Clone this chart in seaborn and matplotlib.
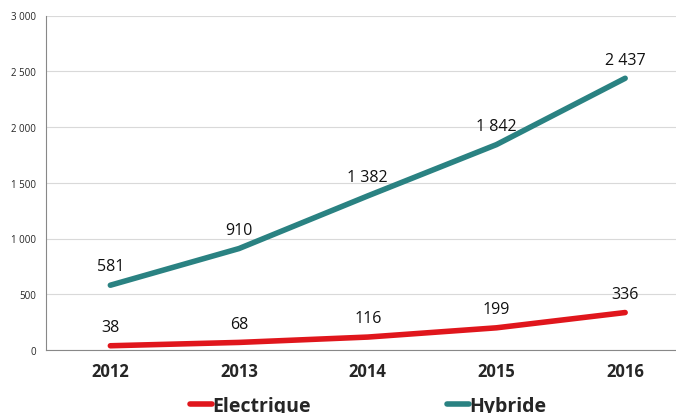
import matplotlib
matplotlib.use("Agg")
import matplotlib.pyplot as plt
import seaborn as sns
import pandas as pd
from matplotlib.lines import Line2D

years = ["2012", "2013", "2014", "2015", "2016"]
electrique = [38, 68, 116, 199, 336]
hybride = [581, 910, 1382, 1842, 2437]
series_names = ["Electrique", "Hybride"]
yticks = [0, 500, 1000, 1500, 2000, 2500, 3000]

colors = {"Electrique": "#E0161C", "Hybride": "#2A8282"}

df = pd.DataFrame({
    "year": years * 2,
    "x": list(range(len(years))) * 2,
    "value": electrique + hybride,
    "series": ["Electrique"] * len(years) + ["Hybride"] * len(years),
})

sns.set_theme(style="white")
plt.rcParams["font.family"] = ["Open Sans", "DejaVu Sans"]

fig = plt.figure(figsize=(6.76, 4.14), dpi=100)
ax = fig.add_axes([46 / 676, 63 / 414, 643.5 / 676, 334.5 / 414])

sns.lineplot(data=df, x="x", y="value", hue="series", palette=colors,
             linewidth=4, ax=ax, legend=False, solid_capstyle="round")

def fmt(v):
    return f"{v:,}".replace(",", " ")

for _, r in df.iterrows():
    ax.annotate(fmt(r["value"]), (r["x"], r["value"]), xytext=(0, 13.5),
                textcoords="offset points", ha="center", va="center",
                fontsize=11.5, color="#111111")

ax.set_xlim(-0.5, len(years) - 0.5)
ax.set_ylim(0, 3000)
ax.set_yticks(yticks)
ax.set_yticklabels([fmt(v) for v in yticks], fontsize=7)
ax.set_xticks(range(len(years)))
ax.set_xticklabels(years, fontsize=12, fontweight="bold")
ax.set_xticks([i - 0.5 for i in range(len(years) + 1)], minor=True)
ax.tick_params(axis="x", which="major", length=0, pad=9)
ax.tick_params(axis="x", which="minor", length=5, color="#888888", width=0.8, direction="out")
ax.tick_params(axis="y", which="major", length=4, color="#888888", width=0.8, direction="out", pad=3)
ax.set_xlabel("")
ax.set_ylabel("")
ax.grid(axis="y", color="#D9D9D9", linewidth=0.8)
ax.set_axisbelow(True)
for s in ["top", "right"]:
    ax.spines[s].set_visible(False)
for s in ["left", "bottom"]:
    ax.spines[s].set_color("#888888")
    ax.spines[s].set_linewidth(0.8)

handles = [Line2D([0], [0], color=colors[n], lw=4) for n in series_names]
fig.legend(handles, series_names, loc="lower center", ncol=2,
           bbox_to_anchor=(0.545, -0.05), frameon=False, handlelength=1.1,
           handletextpad=0.05, columnspacing=7.0,
           prop={"weight": "bold", "size": 14})

fig.savefig("out.png", dpi=100)
